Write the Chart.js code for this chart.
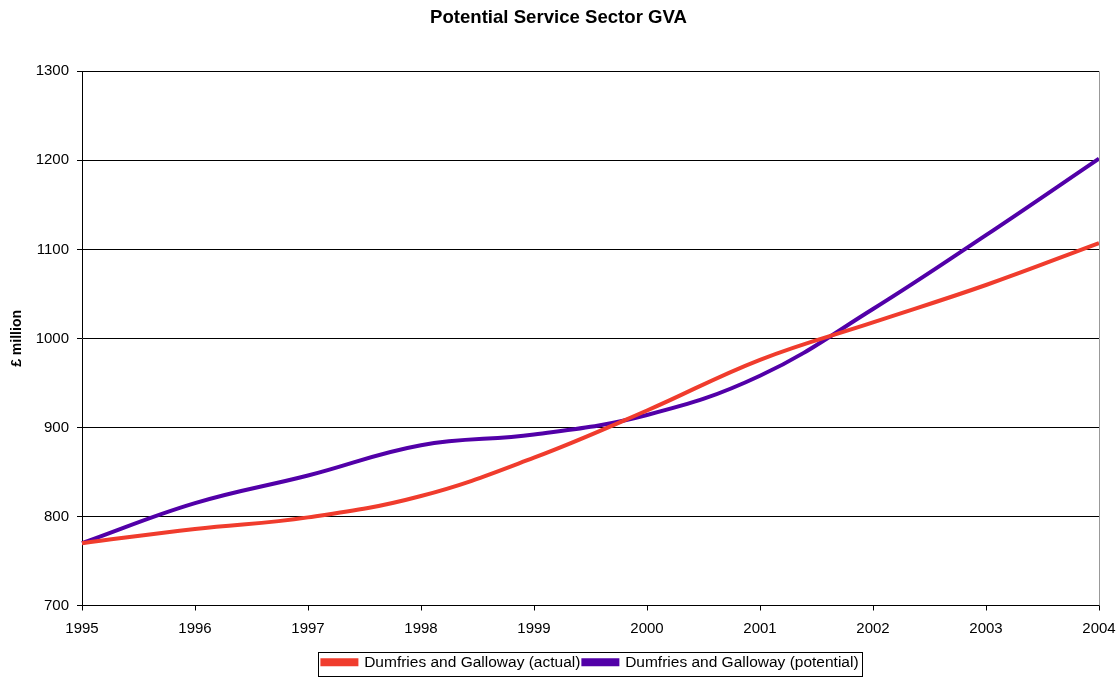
<!DOCTYPE html>
<html>
<head>
<meta charset="utf-8">
<script src="https://cdn.jsdelivr.net/npm/chart.js@4/dist/chart.umd.min.js"></script>
<style>
  html, body { margin: 0; padding: 0; background: #fff; }
  #wrap { width: 1117px; height: 677px; }
</style>
</head>
<body>
<div id="wrap"><canvas id="gva"></canvas></div>
<script>
const YEARS = ['1995', '1996', '1997', '1998', '1999', '2000', '2001', '2002', '2003', '2004'];
const ACTUAL = [770, 786, 799, 823, 866, 919, 976, 1018, 1060, 1107];
const POTENTIAL = [770, 815, 846, 880, 892, 914, 958, 1033, 1116, 1202];

const FONT = 'Liberation Sans, Arial, sans-serif';

// box round the legend, gray frame on the right of the plot
const frames = {
    id: 'frames',
    afterDraw(chart) {
        const ctx = chart.ctx;
        const a = chart.chartArea;
        ctx.save();
        ctx.strokeStyle = '#999';
        ctx.lineWidth = 1;
        ctx.beginPath();
        ctx.moveTo(Math.round(a.right) + 0.5, a.top);
        ctx.lineTo(Math.round(a.right) + 0.5, a.bottom);
        ctx.stroke();

        const lg = chart.legend;
        if (lg && lg.legendHitBoxes.length) {
            const boxes = lg.legendHitBoxes;
            const x0 = boxes[0].left - 4;
            const last = boxes[boxes.length - 1];
            const x1 = last.left + last.width + 4;
            const y0 = boxes[0].top - 3;
            const y1 = boxes[0].top + boxes[0].height + 5;
            ctx.strokeStyle = '#000';
            ctx.strokeRect(Math.round(x0) + 0.5, Math.round(y0) + 0.5, Math.round(x1 - x0), Math.round(y1 - y0));
        }
        ctx.restore();
    }
};

new Chart(document.getElementById('gva'), {
    type: 'line',
    data: {
        labels: YEARS,
        datasets: [
            {
                label: 'Dumfries and Galloway (actual)',
                data: ACTUAL,
                borderColor: '#F03C2D',
                backgroundColor: '#F03C2D',
                borderWidth: 4,
                pointRadius: 0,
                tension: 0.4,
                fill: false
            },
            {
                label: 'Dumfries and Galloway (potential)',
                data: POTENTIAL,
                borderColor: '#5200A8',
                backgroundColor: '#5200A8',
                borderWidth: 4,
                pointRadius: 0,
                tension: 0.4,
                fill: false
            }
        ]
    },
    options: {
        responsive: true,
        maintainAspectRatio: false,
        animation: false,
        layout: { padding: { left: 0, right: 0, top: 0, bottom: -3 } },
        plugins: {
            title: {
                display: true,
                text: 'Potential Service Sector GVA',
                color: '#000',
                font: { family: FONT, size: 18.6, weight: 'bold' },
                padding: { top: 7, bottom: 42 }
            },
            legend: {
                position: 'bottom',
                fullSize: false,
                labels: {
                    color: '#000',
                    font: { family: FONT, size: 15.5 },
                    boxWidth: 34,
                    boxHeight: 4,
                    padding: 3
                }
            },
            tooltip: { enabled: false }
        },
        scales: {
            x: {
                offset: false,
                grid: { drawOnChartArea: false, drawTicks: true, tickLength: 5, color: '#000' },
                border: { color: '#000' },
                ticks: { color: '#000', font: { family: FONT, size: 15 }, maxRotation: 0, padding: 9 },
                afterFit: (s) => {
                    s.height = 46;
                    s.paddingLeft = 0;
                    s.paddingRight = 18;
                }
            },
            y: {
                min: 700,
                max: 1300,
                grid: { color: '#000', tickLength: 5 },
                border: { color: '#000' },
                ticks: {
                    stepSize: 100,
                    color: '#000',
                    font: { family: FONT, size: 15 },
                    padding: 8,
                    callback: (v) => String(v)
                },
                title: {
                    display: true,
                    text: '£ million',
                    color: '#000',
                    font: { family: FONT, size: 14, weight: 'bold' },
                    padding: { top: 9, bottom: 0 }
                },
                afterFit: (s) => { s.width = 82; }
            }
        }
    },
    plugins: [frames]
});
</script>
</body>
</html>
